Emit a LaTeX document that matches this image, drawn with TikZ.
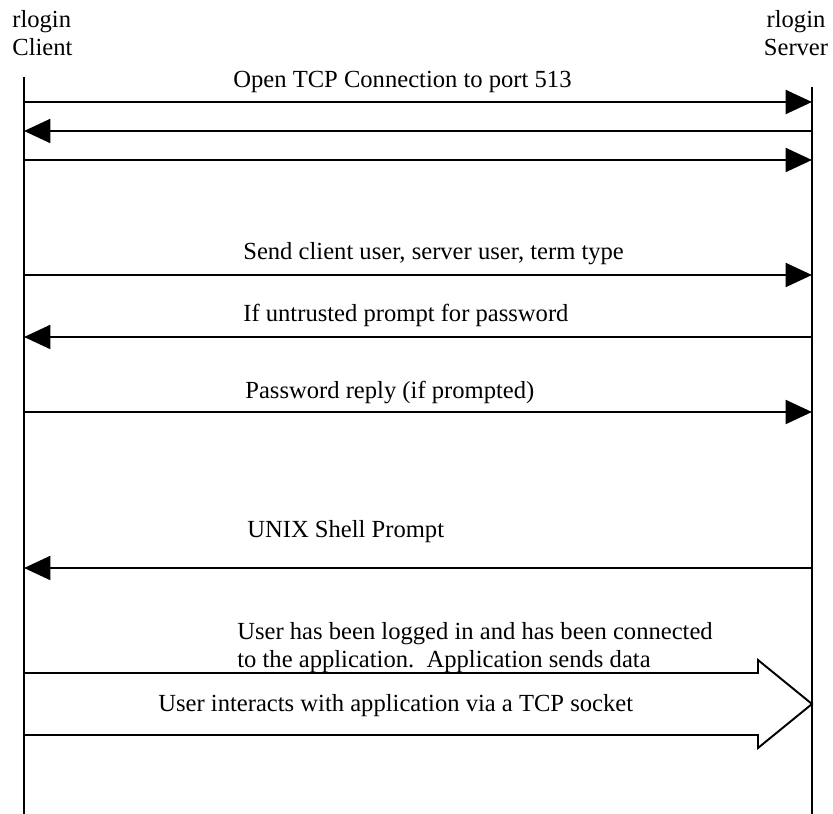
\documentclass[tikz,border=0pt]{standalone}
\usepackage{fontspec}
\setmainfont{Liberation Serif}
\usepackage{tikz}
\usetikzlibrary{arrows.meta}

\begin{document}
\begin{tikzpicture}[x=0.02cm,y=-0.02cm,font=\fontsize{14}{16.3}\selectfont,
                life/.style={line width=1.7pt},
                msg/.style={line width=1.7pt,-{Triangle[length=15pt,width=13.5pt]}},
                lbl/.style={anchor=base west,inner sep=0pt}]
                \useasboundingbox (0,0) rectangle (833,814);
                % lifelines
                \coordinate (ctop) at (24,77);
                \coordinate (cbot) at (24,814);
                \coordinate (stop) at (812,87);
                \coordinate (sbot) at (812,814);
                \draw[life] (ctop) -- (cbot);
                \draw[life] (stop) -- (sbot);
                \node[lbl,align=left] (client) at (12,56) {rlogin\\Client};
                \node[anchor=base,inner sep=0pt,align=center] (server) at (796,56) {rlogin\\Server};
                % message end points
                \foreach \n/\y in {1/102,2/131,3/160,4/275,5/337,6/412,7/568}{
                    \coordinate (c\n) at (24,\y);
                    \coordinate (s\n) at (812,\y);
                }
                \draw[msg] (c1) -- (s1);
                \draw[msg] (s2) -- (c2);
                \draw[msg] (c3) -- (s3);
                \draw[msg] (c4) -- (s4);
                \draw[msg] (s5) -- (c5);
                \draw[msg] (c6) -- (s6);
                \draw[msg] (s7) -- (c7);
                \node[lbl] (open) at (233,88) {Open TCP Connection to port 513};
                \node[lbl] (send) at (243,260) {Send client user, server user, term type};
                \node[lbl] (untr) at (243,322) {If untrusted prompt for password};
                \node[lbl] (pass) at (245,399) {Password reply (if prompted)};
                \node[lbl] (unix) at (247,538) {UNIX Shell Prompt};
                \node[lbl,align=left] (logged) at (237,668) {User has been logged in and has been connected\\to the application.\ \ Application sends data};
                % data transfer arrow
                \draw[line width=1.1pt,fill=white] (24,673) -- (758,673) -- (758,660) -- (812,704)
                    -- (758,748) -- (758,735) -- (24,735);
                \draw[life] (24,660) -- (24,750);
                \node[lbl] (data) at (158,712) {User interacts with application via a TCP socket};
            \end{tikzpicture}
\end{document}
